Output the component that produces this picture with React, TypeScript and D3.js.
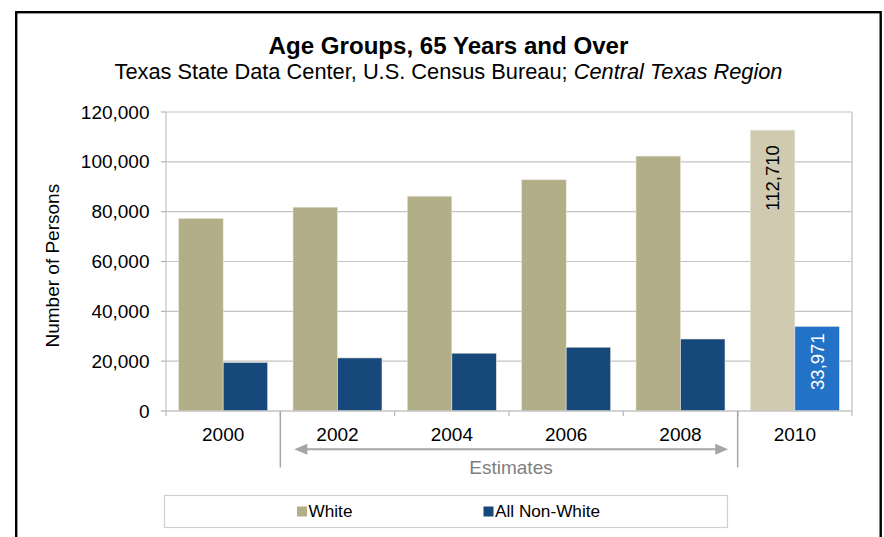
import React from "react";
import * as d3 from "d3";

// Population aged 65+, Central Texas Region
const years = ["2000", "2002", "2004", "2006", "2008", "2010"];
const seriesNames = ["White", "All Non-White"];
const whiteValues = [77300, 81800, 86200, 92800, 102300, 112710];
const nonWhiteValues = [19500, 21300, 23200, 25600, 28900, 33971];
const yTicks = [0, 20000, 40000, 60000, 80000, 100000, 120000];
// Census years whose bars are highlighted and labelled
const labelledYears = ["2010"];

const W = 884;
const H = 537;
const FONT = "'Liberation Sans', Arial, Helvetica, sans-serif";

const plot = { left: 166, right: 852, top: 112, bottom: 411 };

const colors = {
  White: "#b2ae87",
  "All Non-White": "#17487c",
};
const highlightColors = {
  White: "#cfcab0",
  "All Non-White": "#2272c8",
};
const labelColors = {
  White: "#000000",
  "All Non-White": "#ffffff",
};
const labelGap = { White: 15, "All Non-White": 7 };

export default function App() {
  const x = d3
    .scaleBand<string>()
    .domain(years)
    .range([plot.left, plot.right])
    .paddingInner(0.2216)
    .paddingOuter(0.1108);
  const xInner = d3
    .scaleBand<string>()
    .domain(seriesNames)
    .range([0, x.bandwidth()]);
  const y = d3.scaleLinear().domain([0, 120000]).range([plot.bottom, plot.top]);
  const fmt = d3.format(",");

  const step = x.step();
  const boundaries = d3.range(years.length + 1).map((i) => plot.left + i * step);

  const table = years.map((yr, i) => ({
    year: yr,
    values: [
      { name: "White", v: whiteValues[i] },
      { name: "All Non-White", v: nonWhiteValues[i] },
    ],
  }));

  const estStart = boundaries[1];
  const estEnd = boundaries[5];
  const arrowY = 449.3;
  const arrowColor = "#a6a6a6";

  return (
    <svg
      width={W}
      height={H}
      viewBox={`0 0 ${W} ${H}`}
      style={{ position: "absolute", left: 0, top: 0, background: "#fff" }}
      fontFamily={FONT}
    >
      <rect x={0} y={0} width={W} height={H} fill="#fff" />
      {/* outer frame */}
      <rect x={16.2} y={12.2} width={864.5} height={600} fill="none" stroke="#000" strokeWidth={2.4} />

      {/* titles */}
      <text x={448.5} y={53.5} textAnchor="middle" fontSize={24.1} fontWeight="bold" fill="#000">
        Age Groups, 65 Years and Over
      </text>
      <text x={448.5} y={79} textAnchor="middle" fontSize={21.8} fill="#000">
        Texas State Data Center, U.S. Census Bureau; <tspan fontStyle="italic">Central Texas Region</tspan>
      </text>

      {/* gridlines */}
      {yTicks.slice(1).map((t) => (
        <line key={t} x1={plot.left} x2={plot.right} y1={y(t)} y2={y(t)} stroke="#c4c4c4" strokeWidth={1.2} />
      ))}
      {/* plot frame */}
      <line x1={plot.right} x2={plot.right} y1={plot.top} y2={plot.bottom} stroke="#cfcfcf" strokeWidth={1.6} />
      <line x1={plot.left} x2={plot.left} y1={plot.top} y2={plot.bottom} stroke="#c4c4c4" strokeWidth={1.2} />

      {/* y axis ticks and labels */}
      {yTicks.map((t) => (
        <g key={t}>
          <line x1={plot.left - 5} x2={plot.left} y1={y(t)} y2={y(t)} stroke="#b0b0b0" strokeWidth={1.2} />
          <text x={149.5} y={y(t)} dy="0.35em" textAnchor="end" fontSize={19} fill="#000">
            {fmt(t)}
          </text>
        </g>
      ))}
      <text
        transform={`translate(59,265.7) rotate(-90)`}
        textAnchor="middle"
        fontSize={19}
        fill="#000"
      >
        Number of Persons
      </text>

      {/* bars */}
      {table.map((d) => {
        const hl = labelledYears.includes(d.year);
        return (
          <g key={d.year} transform={`translate(${x(d.year)},0)`}>
            {d.values.map((s) => (
              <rect
                key={s.name}
                x={xInner(s.name)}
                y={y(s.v)}
                width={xInner.bandwidth()}
                height={y(0) - y(s.v)}
                fill={hl ? highlightColors[s.name] : colors[s.name]}
                stroke="#e6e4d8"
                strokeWidth={0.6}
              />
            ))}
            {hl &&
              d.values.map((s) => (
                <text
                  key={s.name + "-label"}
                  transform={`translate(${(xInner(s.name) ?? 0) + xInner.bandwidth() / 2},${
                    y(s.v) + labelGap[s.name]
                  }) rotate(-90)`}
                  dy="0.35em"
                  textAnchor="end"
                  fontSize={18.5}
                  fill={labelColors[s.name]}
                >
                  {fmt(s.v)}
                </text>
              ))}
          </g>
        );
      })}

      {/* x axis */}
      <line x1={plot.left} x2={plot.right} y1={plot.bottom} y2={plot.bottom} stroke="#c4c4c4" strokeWidth={1.4} />
      {boundaries.map((b, i) => (
        <line key={i} x1={b} x2={b} y1={plot.bottom} y2={plot.bottom + 5} stroke="#b8b8b8" strokeWidth={1.2} />
      ))}
      {years.map((yr) => (
        <text
          key={yr}
          x={(x(yr) ?? 0) + x.bandwidth() / 2}
          y={440.5}
          textAnchor="middle"
          fontSize={19}
          fill="#000"
        >
          {yr}
        </text>
      ))}

      {/* estimates bracket */}
      <line x1={estStart} x2={estStart} y1={plot.bottom} y2={467.5} stroke={arrowColor} strokeWidth={1.5} />
      <line x1={estEnd} x2={estEnd} y1={plot.bottom} y2={467.5} stroke={arrowColor} strokeWidth={1.5} />
      <line x1={estStart + 24} x2={estEnd - 20} y1={arrowY} y2={arrowY} stroke={arrowColor} strokeWidth={2} />
      <path
        d={`M${estStart + 14},${arrowY} L${estStart + 27},${arrowY - 5.5} L${estStart + 27},${arrowY + 5.5} Z`}
        fill={arrowColor}
      />
      <path
        d={`M${estEnd - 9.5},${arrowY} L${estEnd - 22.5},${arrowY - 5.5} L${estEnd - 22.5},${arrowY + 5.5} Z`}
        fill={arrowColor}
      />
      <text x={(estStart + estEnd) / 2 + 2} y={474} textAnchor="middle" fontSize={19} fill="#7f7f7f">
        Estimates
      </text>

      {/* legend */}
      <rect x={164.5} y={495.5} width={563} height={32} fill="#fff" stroke="#d0d0d0" strokeWidth={1.2} />
      {seriesNames.map((name, i) => {
        const lx = [297, 483.5][i];
        return (
          <g key={name}>
            <rect x={lx} y={506.5} width={10} height={10} fill={colors[name]} />
            <text x={lx + 11.5} y={516.5} fontSize={17.2} fill="#000">
              {name}
            </text>
          </g>
        );
      })}
    </svg>
  );
}
